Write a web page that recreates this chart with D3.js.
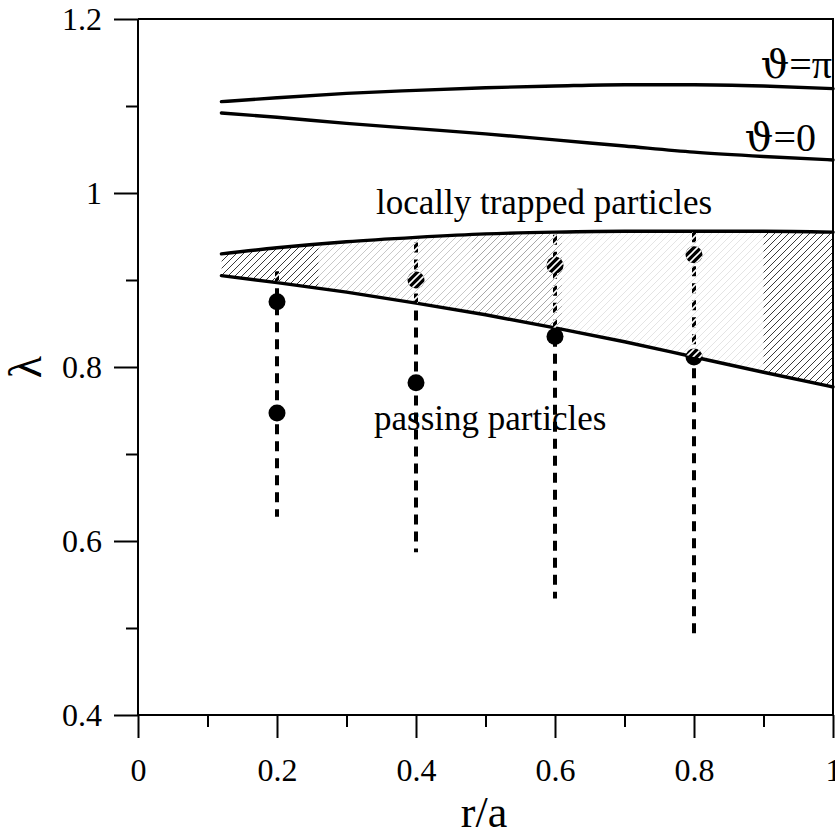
<!DOCTYPE html>
<html>
<head>
<meta charset="utf-8">
<script src="https://cdn.jsdelivr.net/npm/d3@7/dist/d3.min.js"></script>
<style>
  html, body { margin: 0; padding: 0; background: #fff; }
  svg { display: block; font-family: "Liberation Serif", "Times New Roman", serif; }
</style>
</head>
<body>
<svg id="chart" width="835" height="836"></svg>
<script>
// Radial grid (r/a) on which the boundary curves are sampled
const rGrid = [0.12, 0.2, 0.3, 0.4, 0.5, 0.6, 0.7, 0.8, 0.9, 1.0];
// Maximum λ at θ = π and θ = 0
const lambdaPi   = [1.1050, 1.1095, 1.1145, 1.1180, 1.1210, 1.1230, 1.1245, 1.1245, 1.1230, 1.1200];
const lambdaZero = [1.0920, 1.0870, 1.0800, 1.0740, 1.0680, 1.0610, 1.0540, 1.0470, 1.0420, 1.0380];
// Boundaries of the locally trapped region
const lambdaTrapUpper = [0.930, 0.937, 0.944, 0.949, 0.953, 0.955, 0.956, 0.956, 0.956, 0.955];
const lambdaTrapLower = [0.905, 0.897, 0.886, 0.8735, 0.860, 0.845, 0.829, 0.8115, 0.794, 0.777];

// Vertical λ scans at fixed radii
const scanR      = [0.2, 0.4, 0.6, 0.8];
const scanTop    = [0.910, 0.943, 0.952, 0.955];
const scanBottom = [0.628, 0.587, 0.534, 0.494];

// Selected points on the scans
const pointR      = [0.2, 0.2, 0.4, 0.4, 0.6, 0.6, 0.8, 0.8];
const pointLambda = [0.875, 0.747, 0.900, 0.782, 0.917, 0.835, 0.929, 0.8115];

// Axis ticks
const xMajorTicks = [0, 0.2, 0.4, 0.6, 0.8, 1];
const xMajorLabels = ["0", "0.2", "0.4", "0.6", "0.8", "1"];
const xMinorTicks = [0.1, 0.3, 0.5, 0.7, 0.9];
const yMajorTicks = [0.4, 0.6, 0.8, 1.0, 1.2];
const yMajorLabels = ["0.4", "0.6", "0.8", "1", "1.2"];
const yMinorTicks = [0.5, 0.7, 0.9, 1.1];

// ---- layout ----
const margin = { left: 138, right: 2, top: 19, bottom: 121 };
const W = 835, H = 836;
const svg = d3.select("#chart");

const x = d3.scaleLinear().domain([0, 1]).range([margin.left, W - margin.right]);
const y = d3.scaleLinear().domain([0.4, 1.2]).range([H - margin.bottom, margin.top]);

const defs = svg.append("defs");

// diagonal hatch patterns
function hatch(id, color, width) {
  const p = defs.append("pattern")
    .attr("id", id)
    .attr("patternUnits", "userSpaceOnUse")
    .attr("width", 7).attr("height", 7);
  p.append("path")
    .attr("d", "M-1,1 l2,-2 M0,7 l7,-7 M6,8 l2,-2")
    .attr("stroke", color)
    .attr("stroke-width", width)
    .attr("fill", "none");
}
hatch("hatchDark", "#3a3a3a", 1);
hatch("hatchMid", "#a8a8a8", 1);
hatch("hatchLight", "#c8c8c8", 1);
hatch("hatchFaint", "#e4e4e4", 1);
hatch("hatchWhite", "#ffffff", 1.6);

// trapped region polygon
const trapData = rGrid.map((r, i) => ({ r, hi: lambdaTrapUpper[i], lo: lambdaTrapLower[i] }));
const trapArea = d3.area()
  .x(d => x(d.r)).y0(d => y(d.lo)).y1(d => y(d.hi))
  .curve(d3.curveMonotoneX);

defs.append("clipPath").attr("id", "trapClip")
  .append("path").attr("d", trapArea(trapData));

// hatch shading varies along r
const bands = [
  { r0: 0.12, r1: 0.26, fill: "url(#hatchDark)" },
  { r0: 0.26, r1: 0.48, fill: "url(#hatchLight)" },
  { r0: 0.48, r1: 0.61, fill: "url(#hatchMid)" },
  { r0: 0.61, r1: 0.90, fill: "url(#hatchFaint)" },
  { r0: 0.90, r1: 1.00, fill: "url(#hatchDark)" }
];
svg.append("g").attr("clip-path", "url(#trapClip)")
  .selectAll("rect").data(bands).join("rect")
  .attr("x", d => x(d.r0)).attr("width", d => x(d.r1) - x(d.r0))
  .attr("y", y(1.0)).attr("height", y(0.7) - y(1.0))
  .attr("fill", d => d.fill);

// boundary curves
const line = d3.line().x(d => x(d.r)).y(d => y(d.v)).curve(d3.curveMonotoneX);
const curves = [lambdaPi, lambdaZero, lambdaTrapUpper, lambdaTrapLower];
svg.append("g").selectAll("path").data(curves).join("path")
  .attr("d", vals => line(rGrid.map((r, i) => ({ r, v: vals[i] }))))
  .attr("fill", "none")
  .attr("stroke", "#000")
  .attr("stroke-width", 3.4)
  .attr("stroke-linecap", "round");

// scans and points
const scans = scanR.map((r, i) => ({ r, top: scanTop[i], bottom: scanBottom[i] }));
const points = pointR.map((r, i) => ({ r, v: pointLambda[i] }));

function drawScans(g, color) {
  g.selectAll("line.scan").data(scans).join("line")
    .attr("class", "scan")
    .attr("x1", d => x(d.r)).attr("x2", d => x(d.r))
    .attr("y1", d => y(d.top)).attr("y2", d => y(d.bottom))
    .attr("stroke", color)
    .attr("stroke-width", 4)
    .attr("stroke-dasharray", "10,7");
}
function drawPoints(g, color) {
  g.selectAll("circle.pt").data(points).join("circle")
    .attr("class", "pt")
    .attr("cx", d => x(d.r)).attr("cy", d => y(d.v))
    .attr("r", 8.5)
    .attr("fill", color);
}
const marks = svg.append("g");
drawScans(marks, "#000");
drawPoints(marks, "#000");

// white hatch on the marks where they cross the trapped region
const mask = defs.append("mask").attr("id", "markMask")
  .attr("maskUnits", "userSpaceOnUse")
  .attr("x", 0).attr("y", 0).attr("width", W).attr("height", H);
const mg = mask.append("g");
drawScans(mg, "#fff");
drawPoints(mg, "#fff");
svg.append("g").attr("clip-path", "url(#trapClip)")
  .append("rect")
  .attr("x", x(0.12)).attr("width", x(1) - x(0.12))
  .attr("y", y(1.0)).attr("height", y(0.7) - y(1.0))
  .attr("fill", "url(#hatchWhite)")
  .attr("mask", "url(#markMask)");

// ---- axes ----
const serif = "'Liberation Serif', 'Times New Roman', serif";
const axisStyle = g => {
  g.select(".domain").remove();
  g.selectAll("line").attr("stroke", "#000").attr("stroke-width", 2);
  g.selectAll("text").attr("font-size", 32).attr("fill", "#000")
    .attr("font-family", serif);
};

svg.append("g")
  .attr("transform", `translate(0,${y(0.4)})`)
  .call(d3.axisBottom(x).tickValues(xMajorTicks)
    .tickFormat((d, i) => xMajorLabels[i]).tickSize(23).tickPadding(20))
  .call(axisStyle);
svg.append("g")
  .attr("transform", `translate(0,${y(0.4)})`)
  .call(d3.axisBottom(x).tickValues(xMinorTicks).tickFormat("").tickSize(12))
  .call(axisStyle);

svg.append("g")
  .attr("transform", `translate(${x(0)},0)`)
  .call(d3.axisLeft(y).tickValues(yMajorTicks)
    .tickFormat((d, i) => yMajorLabels[i]).tickSize(24).tickPadding(12))
  .call(axisStyle);
svg.append("g")
  .attr("transform", `translate(${x(0)},0)`)
  .call(d3.axisLeft(y).tickValues(yMinorTicks).tickFormat("").tickSize(12))
  .call(axisStyle);

// frame
svg.append("path")
  .attr("d", `M${x(0)},${y(1.2)} V${y(0.4)} H${x(1)} V${y(1.2)} H${x(0)}`)
  .attr("fill", "none").attr("stroke", "#000").attr("stroke-width", 2);

// ---- annotations ----
function label(txt, px, py, size, anchor) {
  return svg.append("text").attr("x", px).attr("y", py)
    .attr("font-size", size).attr("font-family", serif)
    .attr("text-anchor", anchor || "start").attr("fill", "#000").text(txt);
}
function thetaLabel(rest, px, py) {
  const t = svg.append("text").attr("x", px).attr("y", py)
    .attr("font-size", 40).attr("font-family", serif)
    .attr("text-anchor", "end").attr("fill", "#000");
  t.append("tspan").attr("font-family", "'DejaVu Serif', serif")
    .attr("font-size", 40).text("\u03D1");
  t.append("tspan").text(rest);
}
thetaLabel("=\u03C0", x(1) - 1, 78);
thetaLabel("=0", x(1) - 17, 151);
label("locally trapped particles", 376, 214, 35);
label("passing particles", 374, 430, 35);

label("r/a", 484, 827, 44, "middle");
svg.append("text")
  .attr("transform", `translate(41,367) rotate(-90)`)
  .attr("font-size", 46).attr("font-family", serif)
  .attr("text-anchor", "middle").attr("fill", "#000")
  .text("\u03BB");
</script>
</body>
</html>
